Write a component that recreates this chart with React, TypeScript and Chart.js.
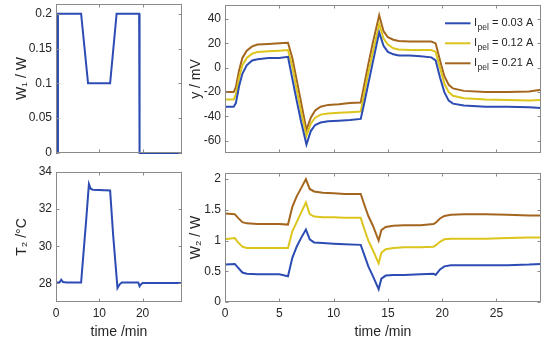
import React, { useEffect, useRef } from 'react';
import { Chart, registerables } from 'chart.js';
Chart.register(...registerables);

// ---------- data ----------
const X_MAX = 29.1;
const X_TICKS_LEFT = [0, 10, 20];
const X_TICKS_RIGHT = [0, 5, 10, 15, 20, 25];

const W1_TICKS = [0, 0.05, 0.1, 0.15, 0.2];
const T2_TICKS = [28, 30, 32, 34];
const Y_TICKS = [-60, -40, -20, 0, 20, 40];
const W2_TICKS = [0, 0.5, 1, 1.5, 2];

const CURRENTS = ['0.03', '0.12', '0.21'];

const W1_T = [0, 0.35, 0.45, 5.8, 7.4, 12.5, 14.0, 19.2, 19.3, 29.1];
const W1_V = [0, 0, 0.2, 0.2, 0.1, 0.1, 0.2, 0.2, 0, 0];

const T2_T = [0, 0.8, 1.2, 1.6, 2.5, 5.8, 6.3, 7.0, 7.6, 8.0, 8.5, 12.5, 13.2, 14.2, 14.7, 15.2, 19.0, 19.3, 19.6, 20.0, 29.1];
const T2_V = [28.05, 28.05, 28.2, 28.08, 28.05, 28.05, 29.5, 31.5, 33.35, 33.1, 33.05, 33.0, 30.6, 27.75, 27.95, 28.05, 28.05, 27.85, 27.95, 28.02, 28.02];

const Y_T = [0, 0.8, 1.0, 1.3, 1.6, 2.0, 2.5, 3.0, 4.0, 5.0, 5.8, 6.2, 6.6, 7.0, 7.5, 7.9, 8.3, 8.8, 9.5, 10.5, 11.5, 12.5, 12.8, 13.2, 13.6, 14.2, 14.6, 15.0, 15.5, 16.0, 17.0, 18.0, 19.0, 19.4, 19.8, 20.2, 20.6, 21.0, 22, 24, 26, 28, 29.1];
const Y_003 = [-32, -32, -29, -15, -5, 2, 6, 7, 8, 8, 9, -9, -27, -44, -63, -52, -47, -45, -44, -43.5, -43, -42, -30, -13, 4, 29, 18, 13, 11, 10, 10, 9.5, 8.5, 6, -8, -20, -27, -29.5, -31, -32, -32, -32.5, -33];
const Y_012 = [-26, -26, -22, -8, 2, 8, 11.5, 13, 13.5, 14, 14.5, 1, -18, -36, -56, -46, -41, -38.5, -37.5, -37, -36.5, -36, -22, -4, 12, 36, 24, 19, 16, 15, 14.5, 14.5, 14.5, 13, 0, -13, -20, -23, -25, -26, -26.5, -27, -26.5];
const Y_021 = [-20, -20, -16, -2, 8, 14, 17.5, 19, 19.5, 20, 20.5, 8, -10, -28, -51, -41, -35, -32, -30.5, -30, -29, -28.5, -15, 3, 20, 43, 30, 25, 23, 22, 21.5, 21.5, 21.5, 20, 6, -7, -14, -17, -19, -20, -20, -19.5, -18];

const W2_T = [0, 0.9, 1.2, 1.6, 2.0, 3.0, 4.0, 5.0, 5.8, 6.2, 6.6, 7.0, 7.45, 7.8, 8.2, 9.0, 10.0, 11.0, 12.5, 12.8, 13.2, 13.6, 14.15, 14.4, 14.8, 15.5, 16.5, 18.0, 19.2, 19.4, 19.8, 20.2, 20.8, 22, 24, 26, 28, 29.1];
const W2_003 = [0.61, 0.62, 0.56, 0.48, 0.46, 0.45, 0.45, 0.45, 0.42, 0.72, 0.9, 1.04, 1.18, 1.02, 0.97, 0.96, 0.95, 0.94, 0.93, 0.78, 0.58, 0.43, 0.21, 0.38, 0.43, 0.44, 0.44, 0.45, 0.46, 0.44, 0.53, 0.58, 0.6, 0.6, 0.6, 0.6, 0.61, 0.62];
const W2_012 = [1.02, 1.04, 0.97, 0.9, 0.88, 0.88, 0.88, 0.88, 0.88, 1.15, 1.3, 1.45, 1.62, 1.43, 1.39, 1.38, 1.38, 1.37, 1.37, 1.2, 1.0, 0.85, 0.63, 0.8, 0.86, 0.88, 0.89, 0.89, 0.9, 0.92, 0.98, 1.02, 1.03, 1.03, 1.03, 1.04, 1.05, 1.05];
const W2_021 = [1.44, 1.43, 1.37, 1.3, 1.28, 1.27, 1.27, 1.27, 1.26, 1.55, 1.72, 1.85, 2.0, 1.84, 1.8, 1.78, 1.77, 1.76, 1.76, 1.6, 1.4, 1.25, 1.0, 1.17, 1.22, 1.24, 1.25, 1.25, 1.27, 1.29, 1.36, 1.4, 1.42, 1.43, 1.43, 1.42, 1.41, 1.41];

// ---------- styles ----------
const OFF = 20;
const PW = 550, PH = 343;
const CW = PW + 2 * OFF, CH = PH + 2 * OFF;
const FONT = "'Liberation Sans', Arial, Helvetica, sans-serif";
const TEXT = '#262626';
const BOXC = '#8a8a8a';
const BLUE = '#2c4cb3';
const YELLOW = '#dcc51d';
const BROWN = '#a4661f';
const TICK_SIZE = 12;
const TITLE_SIZE = 14;
const TITLE_LH = TITLE_SIZE * 1.2;

type Series = { x: number[]; y: number[]; color: string; label: string };
type Spec = {
  area: [number, number, number, number];
  yMin: number; yMax: number; yTicks: number[];
  xTicks: number[];
  yTitle: string; yTitleX: number;
  xTitle?: string;
  series: Series[];
  legend?: boolean;
};

const boxPlugin = {
  id: 'mbox',
  afterDraw(chart: any) {
    const { ctx, chartArea: a, scales } = chart;
    ctx.save();
    ctx.strokeStyle = BOXC;
    ctx.lineWidth = 1;
    const l = Math.round(a.left) + 0.5, r = Math.round(a.right) - 0.5;
    const t = Math.round(a.top) + 0.5, b = Math.round(a.bottom) - 0.5;
    ctx.strokeRect(l, t, r - l, b - t);
    const TL = 3;
    ctx.beginPath();
    scales.x.ticks.forEach((tk: any) => {
      const px = Math.round(scales.x.getPixelForValue(tk.value)) + 0.5;
      ctx.moveTo(px, b); ctx.lineTo(px, b - TL);
      ctx.moveTo(px, t); ctx.lineTo(px, t + TL);
    });
    scales.y.ticks.forEach((tk: any) => {
      const py = Math.round(scales.y.getPixelForValue(tk.value)) + 0.5;
      ctx.moveTo(l, py); ctx.lineTo(l + TL, py);
      ctx.moveTo(r, py); ctx.lineTo(r - TL, py);
    });
    ctx.stroke();
    ctx.restore();
  },
};

const legendPlugin = {
  id: 'mlegend',
  afterDraw(chart: any) {
    const { ctx, chartArea: a } = chart;
    ctx.save();
    chart.data.datasets.forEach((ds: any, i: number) => {
      const y = a.top + 18.3 + i * 20;
      ctx.strokeStyle = ds.borderColor;
      ctx.lineWidth = 2;
      ctx.beginPath();
      ctx.moveTo(a.right - 96, y);
      ctx.lineTo(a.right - 70.5, y);
      ctx.stroke();
      let x = a.right - 67;
      ctx.fillStyle = TEXT;
      ctx.textBaseline = 'alphabetic';
      ctx.textAlign = 'left';
      ctx.font = `11px ${FONT}`;
      ctx.fillText('I', x, y + 3);
      x += ctx.measureText('I').width + 0.5;
      ctx.font = `8.5px ${FONT}`;
      ctx.fillText('pel', x, y + 7);
      x += ctx.measureText('pel').width;
      ctx.font = `11px ${FONT}`;
      ctx.fillText(` = ${CURRENTS[i]} A`, x, y + 3);
    });
    ctx.restore();
  },
};

function makeConfig(p: Spec): any {
  const [L, T, R, B] = p.area;
  const padLeft = OFF + p.yTitleX - TITLE_LH / 2;
  const padRight = OFF + PW - R;
  const padTop = OFF + T;
  const padBottom = p.xTitle ? OFF + (PH - 332) - TITLE_LH / 2 : CH - (B + OFF);
  const yWidth = L + OFF - padLeft;
  const xHeight = p.xTitle ? CH - padBottom - (B + OFF) : 0;
  const tickFont = { family: FONT, size: TICK_SIZE };
  const titleFont = { family: FONT, size: TITLE_SIZE };
  return {
    type: 'line',
    data: {
      datasets: p.series.map((s) => ({
        label: s.label,
        data: s.x.map((x, i) => ({ x, y: s.y[i] })),
        borderColor: s.color,
        backgroundColor: s.color,
        borderWidth: 2,
        pointRadius: 0,
        tension: 0,
        fill: false,
        clip: 4,
      })),
    },
    options: {
      animation: false,
      responsive: false,
      devicePixelRatio: 1,
      events: [],
      layout: { padding: { left: padLeft, right: padRight, top: padTop, bottom: padBottom } },
      plugins: { legend: { display: false }, tooltip: { enabled: false } },
      scales: {
        x: {
          type: 'linear',
          min: 0,
          max: X_MAX,
          grid: { display: false, drawTicks: false },
          border: { display: false },
          ticks: {
            display: !!p.xTitle,
            padding: 4,
            font: tickFont,
            color: TEXT,
            maxRotation: 0,
            callback: (v: any) => String(v),
          },
          title: p.xTitle
            ? { display: true, text: p.xTitle, font: titleFont, color: TEXT, padding: { top: 0, bottom: 0 } }
            : { display: false },
          afterBuildTicks: (s: any) => { s.ticks = p.xTicks.map((v) => ({ value: v })); },
          afterFit: (s: any) => { s.height = xHeight; },
        },
        y: {
          type: 'linear',
          min: p.yMin,
          max: p.yMax,
          grid: { display: false, drawTicks: false },
          border: { display: false },
          ticks: {
            padding: 4,
            font: tickFont,
            color: TEXT,
            callback: (v: any) => String(v),
          },
          title: { display: true, text: p.yTitle, font: titleFont, color: TEXT, padding: { top: 0, bottom: 0 } },
          afterBuildTicks: (s: any) => { s.ticks = p.yTicks.map((v) => ({ value: v })); },
          afterFit: (s: any) => { s.width = yWidth; },
        },
      },
    },
    plugins: p.legend ? [boxPlugin, legendPlugin] : [boxPlugin],
  };
}

const PANELS: Spec[] = [
  {
    area: [56, 4, 182, 153], yMin: 0, yMax: 0.214, yTicks: W1_TICKS, xTicks: X_TICKS_LEFT,
    yTitle: 'W₁ / W', yTitleX: 22,
    series: [{ x: W1_T, y: W1_V, color: BLUE, label: 'W1' }],
  },
  {
    area: [225, 5, 541, 153], yMin: -70, yMax: 51.5, yTicks: Y_TICKS, xTicks: X_TICKS_RIGHT,
    yTitle: 'y / mV', yTitleX: 196, legend: true,
    series: [
      { x: Y_T, y: Y_003, color: BLUE, label: 'Ipel = 0.03 A' },
      { x: Y_T, y: Y_012, color: YELLOW, label: 'Ipel = 0.12 A' },
      { x: Y_T, y: Y_021, color: BROWN, label: 'Ipel = 0.21 A' },
    ],
  },
  {
    area: [56, 172, 182, 302], yMin: 27, yMax: 34, yTicks: T2_TICKS, xTicks: X_TICKS_LEFT,
    yTitle: 'T₂ /°C', yTitleX: 22, xTitle: 'time /min',
    series: [{ x: T2_T, y: T2_V, color: BLUE, label: 'T2' }],
  },
  {
    area: [225, 173, 541, 302], yMin: 0, yMax: 2.1, yTicks: W2_TICKS, xTicks: X_TICKS_RIGHT,
    yTitle: 'W₂ / W', yTitleX: 196, xTitle: 'time /min',
    series: [
      { x: W2_T, y: W2_003, color: BLUE, label: 'Ipel = 0.03 A' },
      { x: W2_T, y: W2_012, color: YELLOW, label: 'Ipel = 0.12 A' },
      { x: W2_T, y: W2_021, color: BROWN, label: 'Ipel = 0.21 A' },
    ],
  },
];

function Panel({ spec }: { spec: Spec }) {
  const ref = useRef<HTMLCanvasElement>(null);
  useEffect(() => {
    const chart = new Chart(ref.current as HTMLCanvasElement, makeConfig(spec));
    return () => chart.destroy();
  }, [spec]);
  return (
    <canvas
      ref={ref}
      width={CW}
      height={CH}
      style={{ position: 'absolute', left: -OFF, top: -OFF, width: CW, height: CH }}
    />
  );
}

export default function App() {
  return (
    <div
      style={{
        position: 'fixed', left: 0, top: 0, width: PW, height: PH,
        overflow: 'hidden', background: '#ffffff',
      }}
    >
      {PANELS.map((p, i) => (
        <Panel key={i} spec={p} />
      ))}
    </div>
  );
}
